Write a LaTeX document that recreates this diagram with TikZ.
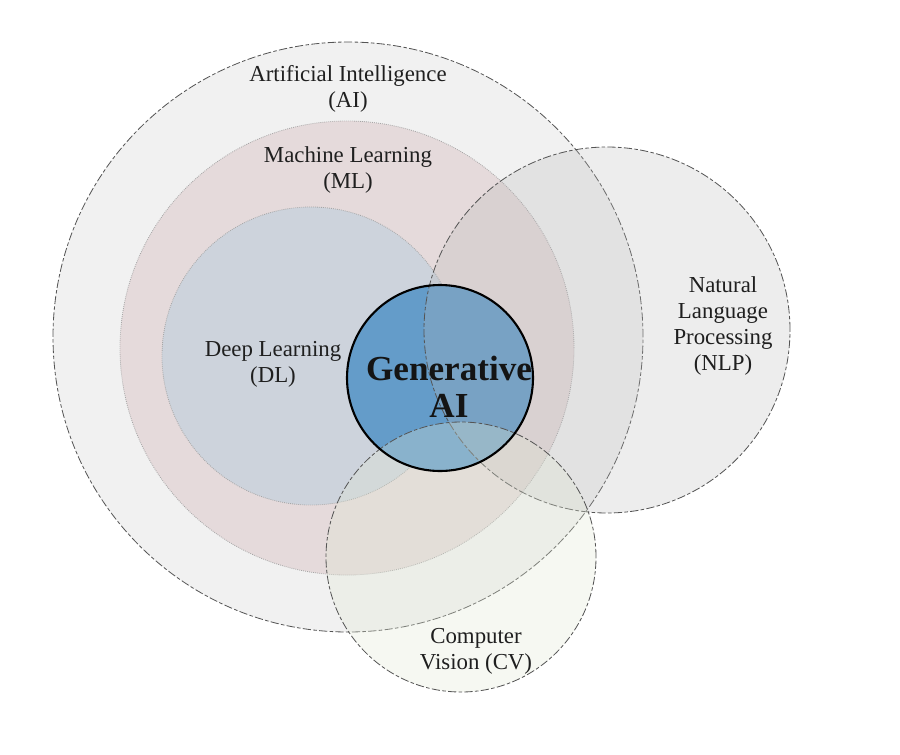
\documentclass[tikz,border=0pt]{standalone}
\usepackage{fontspec}
\setmainfont{Liberation Serif}
\usepackage{tikz}

\definecolor{aigray}{RGB}{241,241,241}
\definecolor{mlpink}{RGB}{229,218,219}
\definecolor{dlblue}{RGB}{205,211,220}
\definecolor{nlpgray}{RGB}{183,183,183}
\definecolor{cvgreen}{RGB}{225,232,212}
\definecolor{genblue}{RGB}{100,156,201}
\definecolor{rimgray}{RGB}{85,85,85}

\begin{document}
\begin{tikzpicture}[x=0.03cm, y=-0.03cm,
    field/.style={circle, inner sep=0pt, line width=0.7pt},
    dashfield/.style={field, draw=rimgray, dash pattern=on 7pt off 2pt on 3pt off 2pt},
    thinfield/.style={field, draw=gray!70, densely dotted},
    label/.style={align=center, font=\fontsize{19.5}{22}\selectfont, text=black!88}]
    \useasboundingbox (0,0) rectangle (900,754);
    \def \px {0.06cm} % diameter per pixel of radius
    % nested fields
    \node (ai) [dashfield, fill=aigray, minimum size=295*\px] at (348,337) {};
    \node (ml) [thinfield, fill=mlpink, minimum size=227*\px] at (347,348) {};
    \node (dl) [thinfield, fill=dlblue, minimum size=149*\px] at (311,356) {};
    \node (gen) [field, fill=genblue, minimum size=93*\px] at (440,378) {};
    % overlapping fields
    \node (nlp) [dashfield, fill=nlpgray, fill opacity=0.25, minimum size=183*\px] at (607,330) {};
    \node (cv) [dashfield, fill=cvgreen, fill opacity=0.3, minimum size=135*\px] at (461,557) {};
    % labels
    \node (ailabel) [label] at (348,89) {Artificial Intelligence\\(AI)};
    \node (mllabel) [label] at (348,170) {Machine Learning\\(ML)};
    \node (dllabel) [label] at (273,364) {Deep Learning\\(DL)};
    \node (nlplabel) [label] at (723,326) {Natural\\Language\\Processing\\(NLP)};
    \node (cvlabel) [label] at (476,651) {Computer\\Vision (CV)};
    \node (genring) [field, draw=black, line width=1.8pt, minimum size=93*\px] at (gen) {};
    \node (genlabel) [align=center, font=\bfseries\fontsize{30}{32}\selectfont, text=black!92]
      at (449,387) {Generative\\AI};
\end{tikzpicture}
\end{document}
